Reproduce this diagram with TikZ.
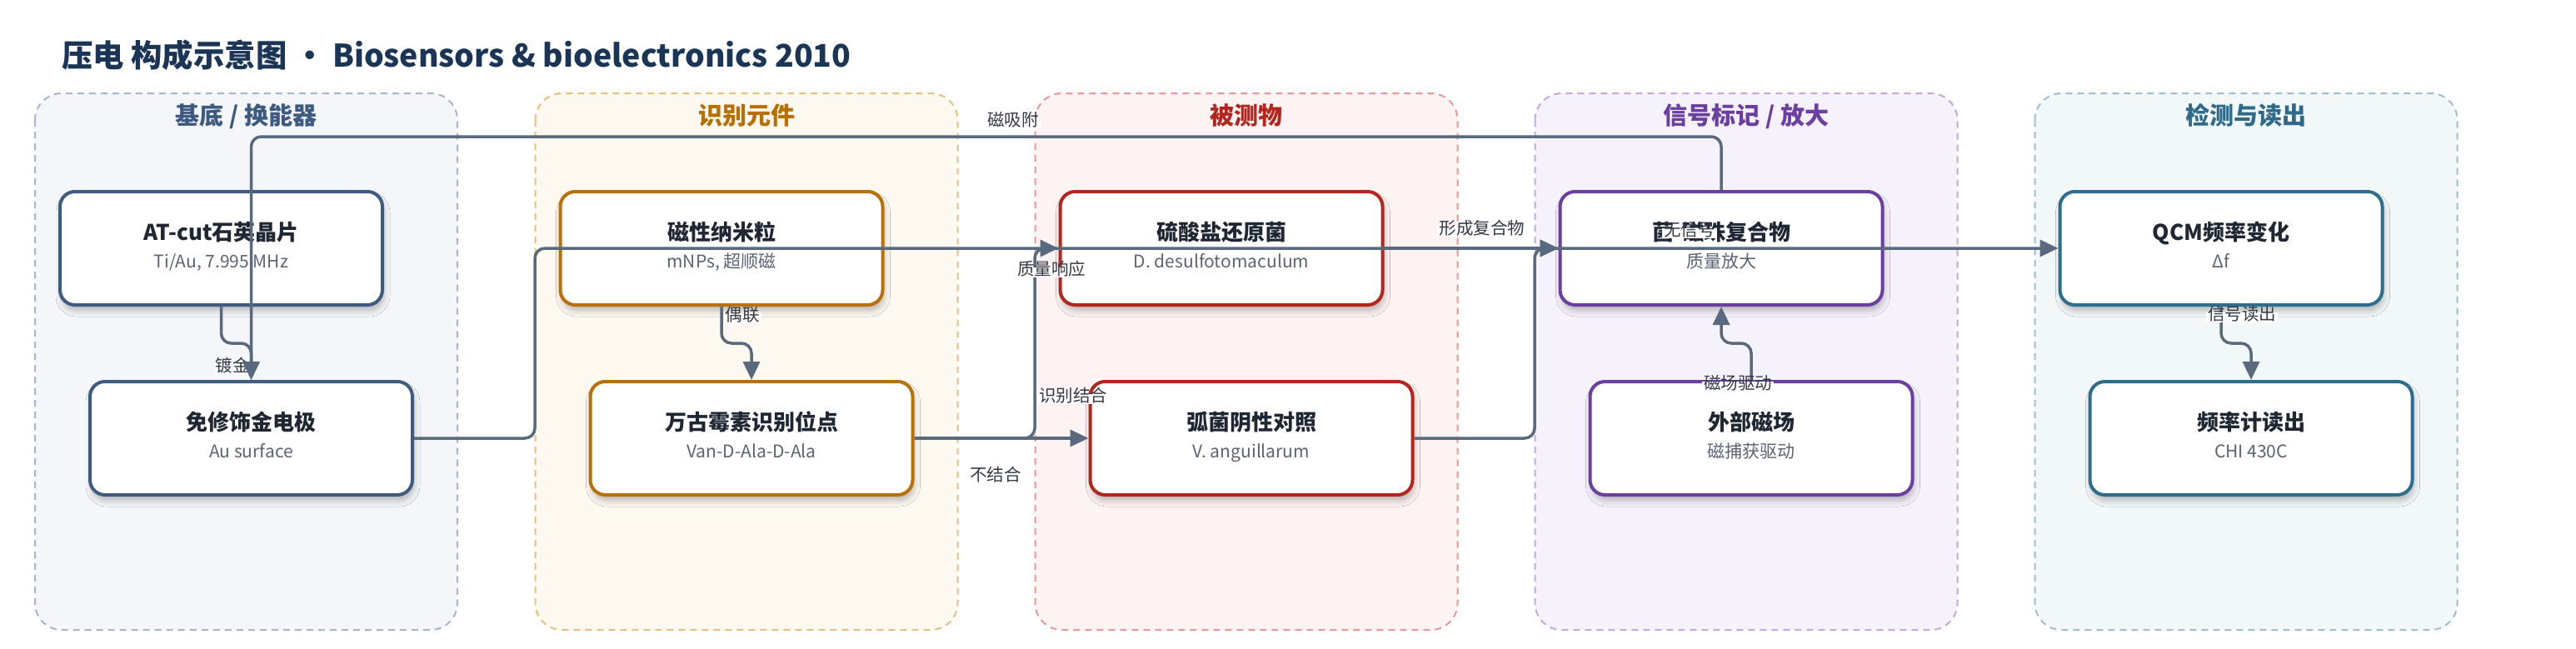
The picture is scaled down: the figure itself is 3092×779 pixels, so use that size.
\documentclass[tikz,border=0pt]{standalone}
\usepackage{fontspec}
\setmainfont{Noto Sans CJK SC}
\usetikzlibrary{arrows.meta,calc,shadows.blur}

\definecolor{edgec}{HTML}{5A6A7E}
\definecolor{ink}{HTML}{1F2733}
\definecolor{subc}{HTML}{5B6472}
\definecolor{labc}{HTML}{333A44}
\definecolor{titlec}{HTML}{1B3556}
% column colours
\definecolor{fA}{HTML}{F4F6FA}\definecolor{bA}{HTML}{A7B6CA}\definecolor{tA}{HTML}{3D5A80}\definecolor{nA}{HTML}{3F5B80}
\definecolor{fB}{HTML}{FDF8F0}\definecolor{bB}{HTML}{E6C07E}\definecolor{tB}{HTML}{B86E00}\definecolor{nB}{HTML}{B8700A}
\definecolor{fC}{HTML}{FDF3F2}\definecolor{bC}{HTML}{E69A96}\definecolor{tC}{HTML}{B3261E}\definecolor{nC}{HTML}{B3261E}
\definecolor{fD}{HTML}{F6F2FB}\definecolor{bD}{HTML}{C3A9DE}\definecolor{tD}{HTML}{6B3FA0}\definecolor{nD}{HTML}{6B3FA0}
\definecolor{fE}{HTML}{F2F7F8}\definecolor{bE}{HTML}{9EBFCC}\definecolor{tE}{HTML}{2E6B8A}\definecolor{nE}{HTML}{2E6E8C}

\newcommand\mybox[6]{%
  \node[box, draw=#4] (#1) at (#2,#3) {};
  \node[ttl] (#1-t) at ($(#1.center)+(0,-13)$) {#5};
  \node[sub] (#1-s) at ($(#1.center)+(0,20)$) {#6};
}

\begin{document}
\begin{tikzpicture}[x=1pt,y=-1pt,
  col/.style={rounded corners=32pt, line width=2pt, dash pattern=on 8pt off 6pt},
  box/.style={rounded corners=18pt, line width=4pt, fill=white, minimum width=387pt,
    minimum height=136pt, inner sep=0pt,
    blur shadow={shadow xshift=2pt, shadow yshift=-7pt, shadow blur radius=7pt, shadow opacity=25}},
  ttl/.style={font=\fontsize{26}{30}\selectfont\bfseries, text=ink, inner sep=0pt, text height=0.8em, text depth=0.05em},
  sub/.style={font=\fontsize{21}{25}\selectfont, text=subc, inner sep=0pt, text height=0.8em, text depth=0.05em},
  coltitle/.style={font=\fontsize{29}{33}\selectfont\bfseries, inner sep=0pt, text height=0.8em, text depth=0.05em},
  lab/.style={fill=white, font=\fontsize{20.5}{24}\selectfont, text=labc, inner sep=2pt, text height=0.8em, text depth=0.05em},
  edge/.style={draw=edgec, line width=3.5pt, rounded corners=12pt, -{Triangle[length=22pt,width=20pt]}}
]
\fill[white] (0,0) rectangle (3092,779);
\useasboundingbox (0,0) rectangle (3092,779);

\node[anchor=west, font=\fontsize{37.4}{42}\selectfont\bfseries, text=titlec, inner sep=0pt, text height=0.8em, text depth=0.05em]
  (title) at (74,77) {压电 构成示意图 · Biosensors \& bioelectronics 2010};

% columns (background groups)
\path[col, fill=fA, draw=bA] (42,112) rectangle (549,756);
\node[coltitle, text=tA] (colA) at (295.5,146) {基底 / 换能器};
\path[col, fill=fB, draw=bB] (642.5,112) rectangle (1149.5,756);
\node[coltitle, text=tB] (colB) at (896,146) {识别元件};
\path[col, fill=fC, draw=bC] (1242.5,112) rectangle (1749.5,756);
\node[coltitle, text=tC] (colC) at (1496,146) {被测物};
\path[col, fill=fD, draw=bD] (1842.5,112) rectangle (2349.5,756);
\node[coltitle, text=tD] (colD) at (2096,146) {信号标记 / 放大};
\path[col, fill=fE, draw=bE] (2442.5,112) rectangle (2949.5,756);
\node[coltitle, text=tE] (colE) at (2696,146) {检测与读出};

% nodes
\mybox{at}{265.5}{298}{nA}{AT-cut石英晶片}{Ti/Au, 7.995 MHz}
\mybox{au}{301.5}{526}{nA}{免修饰金电极}{Au surface}
\mybox{mnp}{866}{298}{nB}{磁性纳米粒}{mNPs, 超顺磁}
\mybox{van}{902}{526}{nB}{万古霉素识别位点}{Van-D-Ala-D-Ala}
\mybox{sulf}{1466}{298}{nC}{硫酸盐还原菌}{D. desulfotomaculum}
\mybox{vib}{1502}{526}{nC}{弧菌阴性对照}{V. anguillarum}
\mybox{cplx}{2066}{298}{nD}{菌-磁珠复合物}{质量放大}
\mybox{mag}{2102}{526}{nD}{外部磁场}{磁捕获驱动}
\mybox{qcm}{2666}{298}{nE}{QCM频率变化}{Δf}
\mybox{freq}{2702}{526}{nE}{频率计读出}{CHI 430C}

% routing helpers
\coordinate (yA) at (0,412);
\coordinate (yT) at (0,164);
\coordinate (xa) at (642,0);
\coordinate (xb) at (1242,0);
\coordinate (xc) at (1842,0);

% connectors
\draw[edge] (at.south) -- (at.south |- yA) -- (au.north |- yA) -- (au.north);
\node[lab] (l-dj) at (279,443) {镀金};
\draw[edge] (cplx.north) -- (cplx.north |- yT) -- (au.north |- yT) -- (au.north);
\draw[edge] (mnp.south) -- (mnp.south |- yA) -- (van.north |- yA) -- (van.north);
\draw[edge] (au.east) -| (xa |- qcm.west) -- (qcm.west);
\draw[edge] (van.east) -| (xb |- sulf.west) -- (sulf.west);
\draw[edge] (van.east) -- (vib.west);
\draw[edge] (sulf.east) -- (cplx.west);
\draw[edge] (vib.east) -| (xc |- cplx.west) -- (cplx.west);
\draw[edge] (mag.north) -- (mag.north |- yA) -- (cplx.south |- yA) -- (cplx.south);
\draw[edge] (qcm.south) -- (qcm.south |- yA) -- (freq.north |- yA) -- (freq.north);

% connector labels
\node[lab] (l-ol) at (891,382) {偶联};
\node[lab] (l-cxf) at (1216,148) {磁吸附};
\node[lab] (l-zl) at (1262,327) {质量响应};
\node[lab] (l-sb) at (1288,479) {识别结合};
\node[lab] (l-bj) at (1195,574) {不结合};
\node[lab] (l-xc) at (1779,278) {形成复合物};
\node[lab] (l-wx) at (2028,280) {无信号};
\node[lab] (l-cq) at (2086,464) {磁场驱动};
\node[lab] (l-xd) at (2691,381) {信号读出};
\end{tikzpicture}
\end{document}
